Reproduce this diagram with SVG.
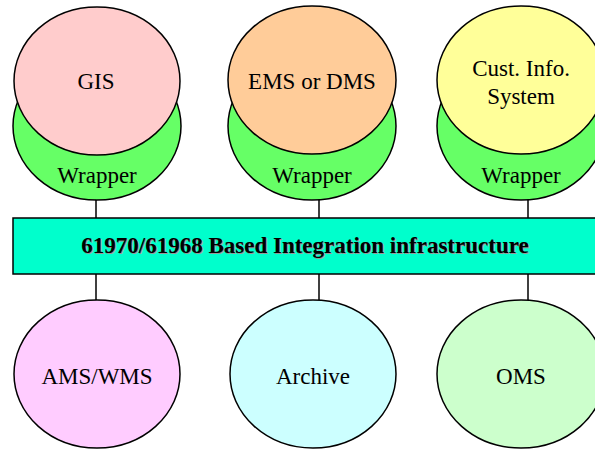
<svg xmlns="http://www.w3.org/2000/svg" width="595" height="450" viewBox="0 0 595 450">
<style>
.e{stroke:#000;stroke-width:1.5}
.t{font-family:"Liberation Serif","Times New Roman",serif;font-size:23px;fill:#000;text-anchor:middle}
.b{font-family:"Liberation Serif","Times New Roman",serif;font-size:23px;font-weight:bold;text-anchor:middle}
.c{stroke:#000;stroke-width:1.5;fill:none}
</style>
<rect width="595" height="450" fill="#fff"/>
<g id="connectors">
<line class="c" x1="96" y1="199" x2="96" y2="218"/>
<line class="c" x1="319" y1="199" x2="319" y2="218"/>
<line class="c" x1="528" y1="199" x2="528" y2="218"/>
<line class="c" x1="96" y1="274" x2="96" y2="300"/>
<line class="c" x1="319" y1="274" x2="319" y2="300"/>
<line class="c" x1="528" y1="274" x2="528" y2="300"/>
</g>
<g id="gis">
<ellipse class="e" cx="97" cy="126" rx="84" ry="74" fill="#66FF66"/>
<text class="t" x="97" y="183">Wrapper</text>
<ellipse class="e" cx="97" cy="81" rx="83" ry="74" fill="#FFCCCC"/>
<text class="t" x="96" y="89">GIS</text>
</g>
<g id="ems">
<ellipse class="e" cx="312" cy="126" rx="84" ry="74" fill="#66FF66"/>
<text class="t" x="312" y="183">Wrapper</text>
<ellipse class="e" cx="312" cy="80" rx="84" ry="74" fill="#FFCC99"/>
<text class="t" x="312" y="89">EMS or DMS</text>
</g>
<g id="cis">
<ellipse class="e" cx="521" cy="126" rx="84" ry="74" fill="#66FF66"/>
<text class="t" x="521" y="183">Wrapper</text>
<ellipse class="e" cx="521" cy="80" rx="84" ry="74" fill="#FFFF99"/>
<text class="t" x="521" y="76">Cust. Info.</text>
<text class="t" x="521" y="104">System</text>
</g>
<g id="bus">
<rect x="13" y="218" width="590" height="56" fill="#00FFCC" stroke="#000" stroke-width="1.5"/>
<text class="b" x="306" y="254" fill="#999">61970/61968 Based Integration infrastructure</text>
<text class="b" x="305" y="253" fill="#000">61970/61968 Based Integration infrastructure</text>
</g>
<g id="ams">
<ellipse class="e" cx="97" cy="374" rx="83" ry="74" fill="#FFCCFF"/>
<text class="t" x="97" y="384">AMS/WMS</text>
</g>
<g id="archive">
<ellipse class="e" cx="313" cy="374" rx="83" ry="74" fill="#CCFFFF"/>
<text class="t" x="313" y="384">Archive</text>
</g>
<g id="oms">
<ellipse class="e" cx="521" cy="374" rx="84" ry="74" fill="#CCFFCC"/>
<text class="t" x="521" y="384">OMS</text>
</g>
</svg>
